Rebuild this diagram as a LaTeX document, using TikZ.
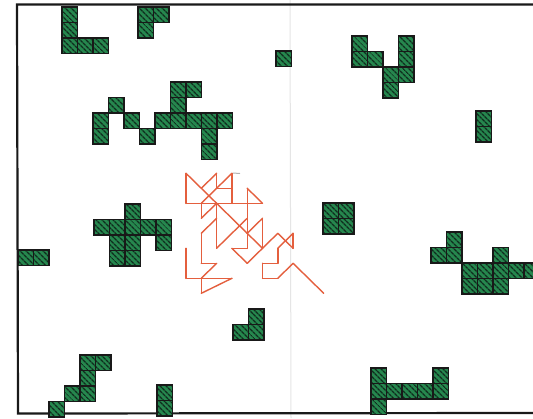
\documentclass[tikz,border=0pt]{standalone}
\usetikzlibrary{patterns.meta}
\definecolor{cellgreen}{RGB}{38,135,78}
\definecolor{stripe}{RGB}{15,45,30}
\definecolor{walk}{RGB}{228,95,62}
\tikzset{
 cellbox/.style={draw=black!90, line width=1.3pt, preaction={fill=cellgreen},
   pattern={Lines[angle=-45,distance=4pt,line width=1.5pt]}, pattern color=stripe},
 frameline/.style={draw=black!90, line width=2.2pt},
 faintline/.style={draw=black!10, line width=1pt},
 walkline/.style={draw=walk, line width=1.4pt, line cap=round, line join=round},
}
\newcommand\polyo[3]{\foreach \c/\r in {#3} {\path[cellbox] ({#1+15.5*\c},{#2+15.5*\r}) rectangle ++(15.5,15.5);}}
\begin{document}
\begin{tikzpicture}[x=1pt,y=-1pt]
\fill[white] (0,0) rectangle (533,418);
\clip (0,0) rectangle (533,418);
% frame
\draw[faintline] (290,0) -- (291,418);
\coordinate (tl) at (17,4.5);
\coordinate (tr) at (533,4.5);
\coordinate (bl) at (18,413.5);
\coordinate (br) at (533,413);
\draw[frameline] (tr) -- (tl) -- (bl) -- (br);
% polyominoes
\polyo{62}{7}{0/0,0/1,0/2,1/2,2/2}
\polyo{138}{7}{0/0,1/0,0/1}
\polyo{276}{51}{0/0}
\polyo{352}{36}{0/0,0/1,1/1,2/2,2/3,3/0,3/1,3/2}
\polyo{476}{111}{0/0,0/1}
\polyo{93}{82}{5/0,6/0,1/1,5/1,0/2,2/2,4/2,5/2,6/2,7/2,8/2,0/3,3/3,7/3,7/4}
\polyo{323}{203}{0/0,1/0,0/1,1/1}
\polyo{94}{204}{2/0,0/1,1/1,2/1,3/1,4/1,1/2,2/2,4/2,1/3,2/3}
\polyo{18}{250}{0/0,1/0}
\polyo{431}{232}{1/0,0/1,1/1,4/1,2/2,3/2,4/2,5/2,6/2,2/3,3/3,4/3}
\polyo{233}{309}{1/0,0/1,1/1}
\polyo{49}{355}{2/0,3/0,2/1,1/2,2/2,0/3}
\polyo{157}{385}{0/0,0/1}
\polyo{371}{368}{0/0,4/0,0/1,1/1,2/1,3/1,4/1,0/2}
% walk
\draw[faintline, draw=black!30] (233,173) -- (240,173.5);
\begin{scope}[shift={(186,173.3)},x=15.3pt,y=-15pt]
\foreach \a/\b/\c/\d in {0/0/0/2, 0/2/5/2, 0/0/2/2, 1/1/2/0, 2/0/2/1, 2/1/3/1, 3/0/1/2, 3/0/3/2, 1/2/1/3, 1/3/2/2, 2/2/2/5, 2/2/4/4, 2/5/4/3, 4/1/5/2, 4/1/4/5, 5/3/5/5, 5/3/4/4, 4/4/5/5, 3/5/4/5, 3/5/4/6, 4/6/5/5, 5/5/6/4, 6/4/7/5, 7/5/7/4, 7/4/6/5, 6/5/6/6, 6/6/5/6, 5/6/5/7, 5/7/6/7, 6/7/7/6, 7/6/9/8, 1/4/1/6, 1/4/2/3, 1/6/2/6, 2/6/1/7, 0/5/0/7, 0/7/3/7, 1/7/1/8, 1/8/3/7}
  {\draw[walkline] (\a,\b) -- (\c,\d);}
\end{scope}
\end{tikzpicture}
\end{document}
